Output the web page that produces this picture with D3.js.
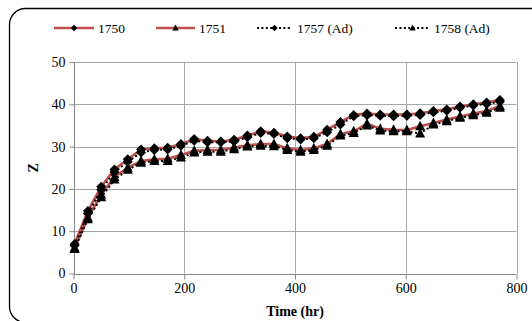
<!DOCTYPE html>
<html>
<head>
<meta charset="utf-8">
<script src="https://cdn.jsdelivr.net/npm/d3@7"></script>
<style>
  html, body { margin: 0; padding: 0; background: #fff; }
  svg { display: block; }
  svg text { font-family: "Liberation Serif", "Times New Roman", Times, serif; }
</style>
</head>
<body>
<svg id="chart" width="532" height="321"></svg>
<script>
// Sampling times (hr)
const times = [2, 26, 50, 74, 98, 122, 146, 170, 194, 218, 242, 266, 290, 314, 338, 362, 386,
               410, 434, 458, 482, 506, 530, 554, 578, 602, 626, 650, 674, 698, 722, 746, 770];

// Z values per sample
const z1750 = [7.0, 14.8, 20.5, 24.6, 27.0, 29.3, 29.6, 29.7, 30.6, 31.8, 31.4, 31.2, 31.6, 32.6, 33.6, 33.3, 32.4,
               32.0, 32.3, 34.0, 35.8, 37.5, 37.8, 37.6, 37.6, 37.6, 37.9, 38.4, 38.8, 39.5, 40.0, 40.4, 41.0];
const z1751 = [6.0, 13.2, 18.6, 22.8, 25.0, 26.6, 27.0, 27.1, 28.0, 29.0, 29.2, 29.2, 29.8, 30.3, 30.6, 30.6, 29.6,
               29.2, 29.6, 30.6, 33.0, 33.6, 35.4, 34.2, 34.0, 33.9, 34.8, 35.6, 36.4, 37.1, 37.8, 38.4, 39.6];
const z1757 = [6.6, 14.2, 19.8, 24.0, 26.4, 28.6, 29.2, 29.3, 30.2, 31.4, 31.0, 31.0, 31.2, 32.2, 33.2, 33.0, 32.0,
               31.7, 32.0, 33.4, 35.2, 37.2, 37.4, 37.3, 37.2, 37.3, 37.5, 38.1, 38.5, 39.2, 39.7, 40.1, 40.6];
const z1758 = [5.8, 12.8, 18.0, 22.2, 24.5, 26.2, 26.6, 26.6, 27.4, 28.6, 28.8, 28.8, 29.4, 30.0, 30.2, 30.1, 29.2,
               28.8, 29.2, 30.2, 32.6, 33.2, 35.0, 33.8, 33.6, 33.6, 33.1, 35.2, 36.0, 36.8, 37.4, 38.0, 39.2];

const xTicks = [0, 200, 400, 600, 800];
const yTicks = [0, 10, 20, 30, 40, 50];

const series = [
  { name: "1750", values: z1750, marker: "diamond", style: "solid" },
  { name: "1751", values: z1751, marker: "triangle", style: "solid" },
  { name: "1757 (Ad)", values: z1757, marker: "diamond", style: "dotted" },
  { name: "1758 (Ad)", values: z1758, marker: "triangle", style: "dotted" }
];

const RED = "#C0504D";
const GRID = "#A6A6A6";
const AXIS = "#868686";

const svg = d3.select("#chart");

// Rounded outer frame of the chart area
svg.append("rect")
  .attr("x", 9.5).attr("y", 8.5)
  .attr("width", 540).attr("height", 314)
  .attr("rx", 16).attr("ry", 16)
  .attr("fill", "#fff")
  .attr("stroke", "#000").attr("stroke-width", 1.3);

const plot = { left: 73.5, right: 516.5, top: 62, bottom: 273.5 };

const x = d3.scaleLinear().domain([0, 800]).range([plot.left, plot.right]);
const y = d3.scaleLinear().domain([0, 50]).range([plot.bottom, plot.top]);

// Gridlines
const grid = svg.append("g");
grid.selectAll(".hg").data(yTicks.filter(d => d > 0)).join("line")
  .attr("x1", plot.left).attr("x2", plot.right)
  .attr("y1", d => Math.round(y(d)) + 0.5).attr("y2", d => Math.round(y(d)) + 0.5)
  .attr("stroke", GRID).attr("stroke-width", 1);
grid.selectAll(".vg").data(xTicks.filter(d => d > 0)).join("line")
  .attr("x1", d => Math.round(x(d)) + 0.5).attr("x2", d => Math.round(x(d)) + 0.5)
  .attr("y1", plot.top).attr("y2", plot.bottom)
  .attr("stroke", GRID).attr("stroke-width", 1);

// Axes
const xAxis = d3.axisBottom(x).tickValues(xTicks).tickSize(5).tickPadding(4).tickFormat(d3.format("d"));
const yAxis = d3.axisLeft(y).tickValues(yTicks).tickSize(5).tickPadding(4).tickFormat(d3.format("d"));

const gx = svg.append("g").attr("transform", `translate(0,${Math.round(plot.bottom) + 0.5})`).call(xAxis);
const gy = svg.append("g").attr("transform", `translate(${Math.round(plot.left) + 0.5},0)`).call(yAxis);

[gx, gy].forEach(g => {
  g.attr("font-family", null);
  g.select(".domain").attr("stroke", AXIS);
  g.selectAll(".tick line").attr("stroke", AXIS);
  g.selectAll(".tick text").attr("font-size", 14).attr("fill", "#000");
});
gx.select(".domain").attr("d", `M${plot.left},0H${plot.right}`);
gy.select(".domain").attr("d", `M0,${plot.top}V${plot.bottom}`);

// Axis titles
svg.append("text")
  .attr("x", (plot.left + plot.right) / 2).attr("y", 316)
  .attr("text-anchor", "middle")
  .attr("font-size", 14).attr("font-weight", "bold")
  .text("Time (hr)");
svg.append("text")
  .attr("transform", `translate(38,${(plot.top + plot.bottom) / 2}) rotate(-90)`)
  .attr("text-anchor", "middle")
  .attr("font-size", 14).attr("font-weight", "bold")
  .text("Z");

// Marker shapes
function markerPath(type, r) {
  if (type === "diamond") return `M0,${-r}L${r},0L0,${r}L${-r},0Z`;
  return `M0,${-r * 1.1}L${r},${r * 0.8}L${-r},${r * 0.8}Z`;
}

const line = d3.line().x((d, i) => x(times[i])).y(d => y(d));

const lines = svg.append("g");
function styleLine(sel, s) {
  if (s.style === "solid") {
    sel.attr("stroke", RED).attr("stroke-width", 2.6);
  } else {
    sel.attr("stroke", "#000").attr("stroke-width", 2).attr("stroke-dasharray", "2,2.4");
  }
  return sel;
}
// solid series first, dotted ones drawn over them
series.filter(s => s.style === "solid").concat(series.filter(s => s.style === "dotted")).forEach(s => {
  styleLine(lines.append("path").datum(s.values).attr("fill", "none").attr("d", line), s);
});

const marks = svg.append("g");
series.forEach(s => {
  marks.selectAll(null).data(s.values).join("path")
    .attr("transform", (d, i) => `translate(${x(times[i])},${y(d)})`)
    .attr("d", markerPath(s.marker, 5))
    .attr("fill", "#000");
});

// Legend
const legendItems = [
  { x0: 54, x1: 94, tx: 98 },
  { x0: 156, x1: 195, tx: 199 },
  { x0: 257, x1: 292, tx: 297 },
  { x0: 395, x1: 430, tx: 434 }
];
const ly = 28;
const legend = svg.append("g");
series.forEach((s, i) => {
  const it = legendItems[i];
  styleLine(legend.append("line")
    .attr("x1", it.x0).attr("x2", it.x1).attr("y1", ly).attr("y2", ly), s);
  legend.append("path")
    .attr("transform", `translate(${(it.x0 + it.x1) / 2},${ly})`)
    .attr("d", markerPath(s.marker, 3.2)).attr("fill", "#000");
  legend.append("text")
    .attr("x", it.tx).attr("y", ly + 5)
    .attr("font-size", 13.5).attr("fill", "#000")
    .text(s.name);
});
</script>
</body>
</html>
